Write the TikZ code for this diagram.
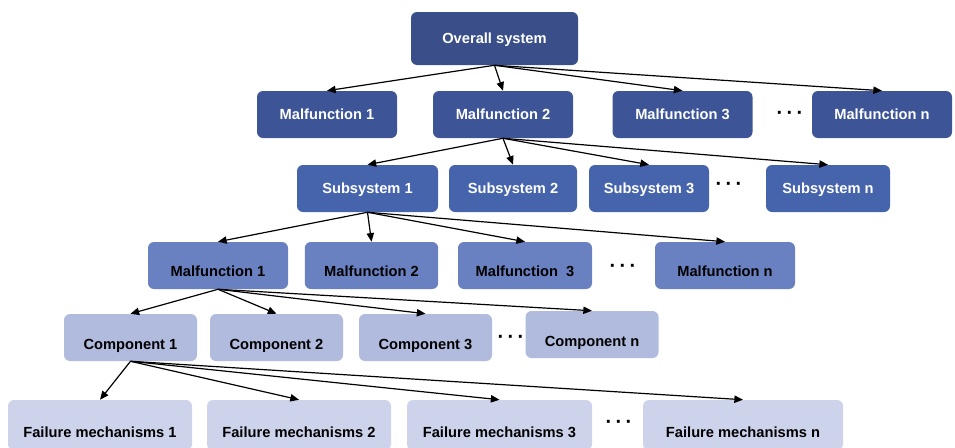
\documentclass[tikz,border=0pt]{standalone}
\usepackage{fontspec}
\setmainfont{Liberation Sans}
\usetikzlibrary{arrows.meta,positioning}

\definecolor{lvlzero}{RGB}{58,79,138}
\definecolor{lvlone}{RGB}{61,85,150}
\definecolor{lvltwo}{RGB}{70,100,172}
\definecolor{lvlthree}{RGB}{106,129,193}
\definecolor{lvlfour}{RGB}{176,187,222}
\definecolor{lvlfive}{RGB}{205,211,235}

\begin{document}
\begin{tikzpicture}[x=0.75pt,y=-0.75pt,
	box/.style={rounded corners=4.5pt,inner sep=0pt,font=\bfseries\fontsize{11}{13}\selectfont,text depth=0pt},
	lowtext/.style={text height=#1},
	gap/.style={font=\bfseries\fontsize{15}{17}\selectfont},
	>={Stealth[length=6.5pt,width=5.5pt,inset=0pt]}]
	\useasboundingbox (0,0) rectangle (955,447);
	% levels of the tree
	\begin{scope}[every node/.style={box,fill=lvlzero,text=white,minimum height=39.75pt}]
		\node[minimum width=125.25pt] (sys) at (494.5,38.5) {Overall system};
	\end{scope}
	\begin{scope}[every node/.style={box,fill=lvlone,text=white,minimum height=35.25pt,minimum width=105pt}]
		\node (mal1) at (327,114.5) {Malfunction~1};
		\node (mal2) at (503,114.5) {Malfunction~2};
		\node (mal3) at (682.5,114.5) {Malfunction~3};
		\node (maln) at (882,114.5) {Malfunction~n};
	\end{scope}
	\begin{scope}[every node/.style={box,fill=lvltwo,text=white,minimum height=35.25pt}]
		\node[minimum width=105.75pt] (sub1) at (367.5,188.5) {Subsystem~1};
		\node[minimum width=96pt] (sub2) at (513,188.5) {Subsystem~2};
		\node[minimum width=90pt] (sub3) at (649,188.5) {Subsystem~3};
		\node[minimum width=93pt] (subn) at (828,188.5) {Subsystem~n};
	\end{scope}
	\begin{scope}[every node/.style={box,fill=lvlthree,text=black,minimum height=35.25pt,lowtext=16pt}]
		\node[minimum width=105pt] (fn1) at (218,265.5) {Malfunction~1};
		\node[minimum width=100pt] (fn2) at (371.5,265.5) {Malfunction~2};
		\node[minimum width=100.5pt] (fn3) at (525,265.5) {Malfunction~~3};
		\node[minimum width=105pt] (fnn) at (725,265.5) {Malfunction~n};
	\end{scope}
	\begin{scope}[every node/.style={box,fill=lvlfour,text=black,minimum height=35.25pt,minimum width=99.75pt,lowtext=17.5pt}]
		\node (comp1) at (130.5,337.5) {Component~1};
		\node (comp2) at (276.5,337.5) {Component~2};
		\node (comp3) at (425.5,337.5) {Component~3};
		\node (compn) at (592,334.5) {Component~n};
	\end{scope}
	\begin{scope}[every node/.style={box,fill=lvlfive,text=black,minimum height=37.5pt,lowtext=19pt}]
		\node[minimum width=138pt] (fail1) at (100,425) {Failure mechanisms~1};
		\node[minimum width=138pt] (fail2) at (299,425) {Failure mechanisms~2};
		\node[minimum width=138.75pt] (fail3) at (499.5,425) {Failure mechanisms~3};
		\node[minimum width=150pt] (failn) at (743,425) {Failure mechanisms~n};
	\end{scope}
	% dots between the boxes
	\node[gap] (dotsA) at (790,115) {·\,·\,·};
	\node[gap] (dotsB) at (729,186) {·\,·\,·};
	\node[gap] (dotsC) at (623,268) {·\,·\,·};
	\node[gap] (dotsD) at (511,339) {·\,·\,·};
	\node[gap] (dotsE) at (619,424) {·\,·\,·};
	% connectors
	\begin{scope}[every edge/.style={draw,->,line width=0.9pt}]
		\path (sys.south) edge (mal1.north);
		\path (sys.south) edge (mal2.north);
		\path (sys.south) edge (mal3.north);
		\path (sys.south) edge (maln.north);
		\path (mal2.south) edge (sub1.north);
		\path (mal2.south) edge (sub2.north);
		\path (mal2.south) edge (sub3.north);
		\path (mal2.south) edge (subn.north);
		\path (sub1.south) edge (fn1.north);
		\path (sub1.south) edge (fn2.north);
		\path (sub1.south) edge (fn3.north);
		\path (sub1.south) edge (fnn.north);
		\path (fn1.south) edge (comp1.north);
		\path (fn1.south) edge (comp2.north);
		\path (fn1.south) edge (comp3.north);
		\path (fn1.south) edge (compn.north);
		\path (comp1.south) edge (fail1.north);
		\path (comp1.south) edge (fail2.north);
		\path (comp1.south) edge (fail3.north);
		\path (comp1.south) edge (failn.north);
	\end{scope}
\end{tikzpicture}
\end{document}
